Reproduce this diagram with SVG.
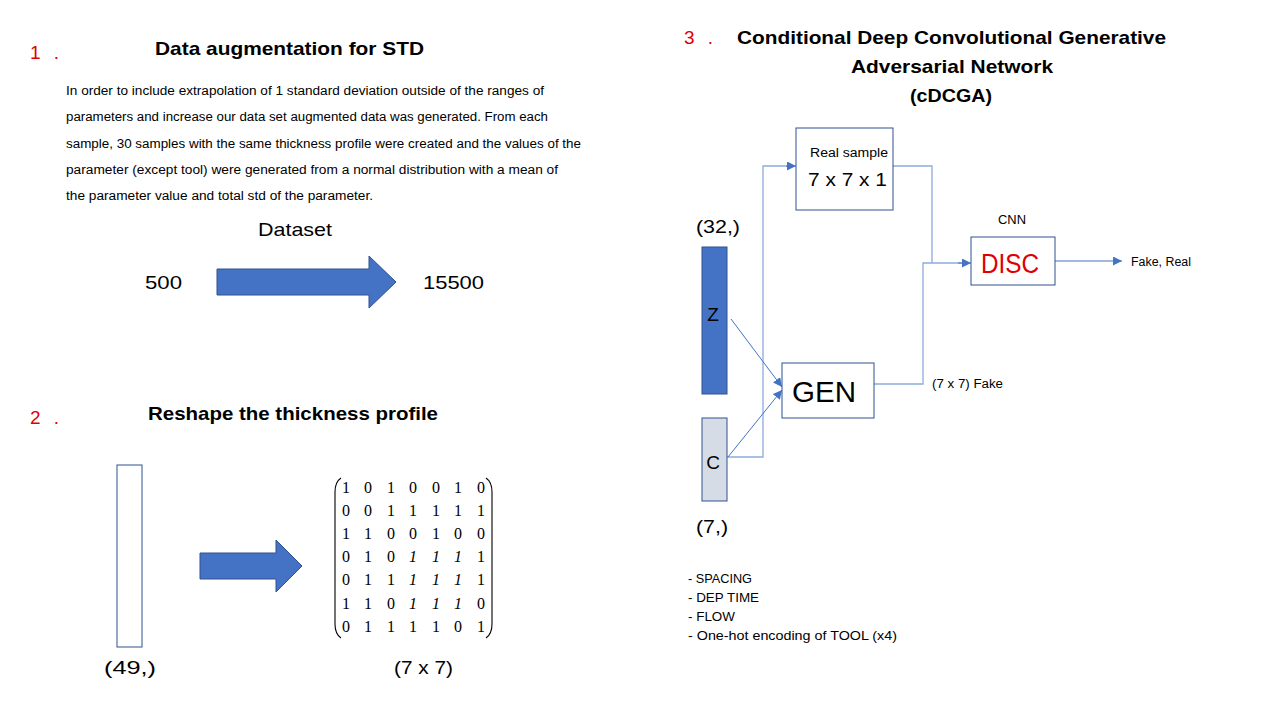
<svg xmlns="http://www.w3.org/2000/svg" width="1280" height="720" viewBox="0 0 1280 720">
<defs>
<style>
text{font-family:"Liberation Sans",Arial,sans-serif;fill:#000}
.num{fill:#E00000;font-size:19px;letter-spacing:4px}
.title{font-weight:bold;font-size:19px}
.para{font-size:12.5px}
.lbl{font-size:19px}
.sm{font-size:12.5px}
.mx{font-family:"Liberation Serif","Times New Roman",serif;font-size:16px;text-anchor:middle}
.it{font-style:italic}
.box{fill:#fff;stroke:#2F528F;stroke-width:1}
.conn{fill:none;stroke:#4472C4;stroke-width:1}
.elb{fill:none;stroke:#8FAADC;stroke-width:1.3}
.bigarrow{fill:#4472C4;stroke:#2F528F;stroke-width:1}
.paren{fill:none;stroke:#000;stroke-width:1.1}
</style>
<marker id="ah" viewBox="0 0 10 10" refX="10" refY="5" markerWidth="9" markerHeight="9" markerUnits="userSpaceOnUse" orient="auto">
<path d="M0,0 L10,5 L0,10 z" fill="#4472C4"/>
</marker>
</defs>
<rect width="1280" height="720" fill="#fff"/>

<!-- Section 1 -->
<g id="section1">
<text class="num" x="30" y="59">1 .</text>
<text class="title" x="155" y="55" textLength="269" lengthAdjust="spacingAndGlyphs">Data augmentation for STD</text>
<text class="para" x="66" y="95" textLength="478" lengthAdjust="spacingAndGlyphs">In order to include extrapolation of 1 standard deviation outside of the ranges of</text>
<text class="para" x="66" y="121" textLength="482" lengthAdjust="spacingAndGlyphs">parameters and increase our data set augmented data was generated. From each</text>
<text class="para" x="66" y="148" textLength="515" lengthAdjust="spacingAndGlyphs">sample, 30 samples with the same thickness profile were created and the values of the</text>
<text class="para" x="66" y="174" textLength="492" lengthAdjust="spacingAndGlyphs">parameter (except tool) were generated from a normal distribution with a mean of</text>
<text class="para" x="66" y="200" textLength="307" lengthAdjust="spacingAndGlyphs">the parameter value and total std of the parameter.</text>
</g>
<g id="dataset">
<text class="lbl" x="258" y="236" textLength="74" lengthAdjust="spacingAndGlyphs">Dataset</text>
<text class="lbl" x="145" y="289" textLength="37" lengthAdjust="spacingAndGlyphs">500</text>
<text class="lbl" x="423" y="289" textLength="61" lengthAdjust="spacingAndGlyphs">15500</text>
<polygon class="bigarrow" points="217,269 369,269 369,256 396,282 369,308 369,295 217,295"/>
</g>

<!-- Section 2 -->
<g id="section2">
<text class="num" x="30" y="424">2 .</text>
<text class="title" x="148" y="420" textLength="290" lengthAdjust="spacingAndGlyphs">Reshape the thickness profile</text>
</g>
<g id="vector49">
<rect class="box" x="117" y="465" width="25" height="182"/>
<text class="lbl" x="104" y="674" textLength="52" lengthAdjust="spacingAndGlyphs">(49,)</text>
</g>
<polygon id="reshape-arrow" class="bigarrow" points="200,553 276,553 276,540 302,566 276,592 276,579 200,579"/>
<g id="matrix">
<path class="paren" d="M341,478 Q335,482 335,492 L335,624 Q335,634 341,638"/>
<path class="paren" d="M486,478 Q492,482 492,492 L492,624 Q492,634 486,638"/>
<text class="mx" y="493"><tspan x="346">1</tspan><tspan x="368">0</tspan><tspan x="391">1</tspan><tspan x="413">0</tspan><tspan x="436">0</tspan><tspan x="458">1</tspan><tspan x="481">0</tspan></text>
<text class="mx" y="516"><tspan x="346">0</tspan><tspan x="368">0</tspan><tspan x="391">1</tspan><tspan x="413">1</tspan><tspan x="436">1</tspan><tspan x="458">1</tspan><tspan x="481">1</tspan></text>
<text class="mx" y="539"><tspan x="346">1</tspan><tspan x="368">1</tspan><tspan x="391">0</tspan><tspan x="413">0</tspan><tspan x="436">1</tspan><tspan x="458">0</tspan><tspan x="481">0</tspan></text>
<text class="mx" y="562"><tspan x="346">0</tspan><tspan x="368">1</tspan><tspan x="391">0</tspan><tspan x="413" class="it">1</tspan><tspan x="436" class="it">1</tspan><tspan x="458" class="it">1</tspan><tspan x="481">1</tspan></text>
<text class="mx" y="585"><tspan x="346">0</tspan><tspan x="368">1</tspan><tspan x="391">1</tspan><tspan x="413" class="it">1</tspan><tspan x="436" class="it">1</tspan><tspan x="458" class="it">1</tspan><tspan x="481">1</tspan></text>
<text class="mx" y="609"><tspan x="346">1</tspan><tspan x="368">1</tspan><tspan x="391">0</tspan><tspan x="413" class="it">1</tspan><tspan x="436" class="it">1</tspan><tspan x="458" class="it">1</tspan><tspan x="481">0</tspan></text>
<text class="mx" y="632"><tspan x="346">0</tspan><tspan x="368">1</tspan><tspan x="391">1</tspan><tspan x="413">1</tspan><tspan x="436">1</tspan><tspan x="458">0</tspan><tspan x="481">1</tspan></text>
<text class="lbl" x="394" y="674" textLength="59" lengthAdjust="spacingAndGlyphs">(7 x 7)</text>
</g>

<!-- Section 3 -->
<g id="section3">
<text class="num" x="684" y="44">3 .</text>
<text class="title" x="737" y="44" textLength="429" lengthAdjust="spacingAndGlyphs">Conditional Deep Convolutional Generative</text>
<text class="title" x="851" y="73" textLength="202" lengthAdjust="spacingAndGlyphs">Adversarial Network</text>
<text class="title" x="910" y="102" textLength="82" lengthAdjust="spacingAndGlyphs">(cDCGA)</text>
</g>

<g id="connectors">
<polyline class="elb" points="727,457 763,457 763,166 790,166"/>
<path d="M786,166 L796,166" class="conn" marker-end="url(#ah)"/>
<polyline class="elb" points="893,166 932,166 932,263"/>
<polyline class="elb" points="874,384 923,384 923,263 962,263"/>
<path d="M958,263 L971,263" class="conn" marker-end="url(#ah)"/>
<line class="conn" x1="731" y1="319" x2="782" y2="387" marker-end="url(#ah)"/>
<line class="conn" x1="728" y1="457" x2="782" y2="390" marker-end="url(#ah)"/>
<line class="conn" x1="1055" y1="261" x2="1122" y2="261" marker-end="url(#ah)"/>
</g>

<g id="z-input">
<text class="lbl" x="696" y="233" textLength="44" lengthAdjust="spacingAndGlyphs">(32,)</text>
<rect x="702" y="247" width="25" height="147" fill="#4472C4" stroke="#2F528F" stroke-width="1"/>
<text class="lbl" x="713" y="321" text-anchor="middle" font-size="19">Z</text>
</g>
<g id="c-input">
<rect x="702" y="418" width="25" height="83" fill="#D6DCE5" stroke="#2F528F" stroke-width="1"/>
<text class="lbl" x="713" y="469" text-anchor="middle" font-size="19">C</text>
<text class="lbl" x="696" y="533" textLength="32" lengthAdjust="spacingAndGlyphs">(7,)</text>
</g>
<g id="real-sample">
<rect class="box" x="796" y="128" width="97" height="82"/>
<text class="sm" x="810" y="157" textLength="78" lengthAdjust="spacingAndGlyphs">Real sample</text>
<text class="lbl" x="808" y="186" textLength="79" lengthAdjust="spacingAndGlyphs">7 x 7 x 1</text>
</g>
<g id="gen">
<rect class="box" x="782" y="363" width="92" height="55"/>
<text x="792" y="402" font-size="30" textLength="64" lengthAdjust="spacingAndGlyphs">GEN</text>
<text class="sm" x="932" y="388" textLength="71" lengthAdjust="spacingAndGlyphs">(7 x 7) Fake</text>
</g>
<g id="disc">
<text class="sm" x="998" y="224" textLength="28" lengthAdjust="spacingAndGlyphs">CNN</text>
<rect class="box" x="971" y="237" width="84" height="48"/>
<text x="981" y="273" font-size="27" style="fill:#E00000" textLength="58" lengthAdjust="spacingAndGlyphs">DISC</text>
<text class="sm" x="1131" y="266" textLength="60" lengthAdjust="spacingAndGlyphs">Fake, Real</text>
</g>
<g id="conditions">
<text class="sm" x="688" y="583" textLength="64" lengthAdjust="spacingAndGlyphs">- SPACING</text>
<text class="sm" x="688" y="602" textLength="71" lengthAdjust="spacingAndGlyphs">- DEP TIME</text>
<text class="sm" x="688" y="621" textLength="47" lengthAdjust="spacingAndGlyphs">- FLOW</text>
<text class="sm" x="688" y="640" textLength="209" lengthAdjust="spacingAndGlyphs">- One-hot encoding of TOOL (x4)</text>
</g>
</svg>
